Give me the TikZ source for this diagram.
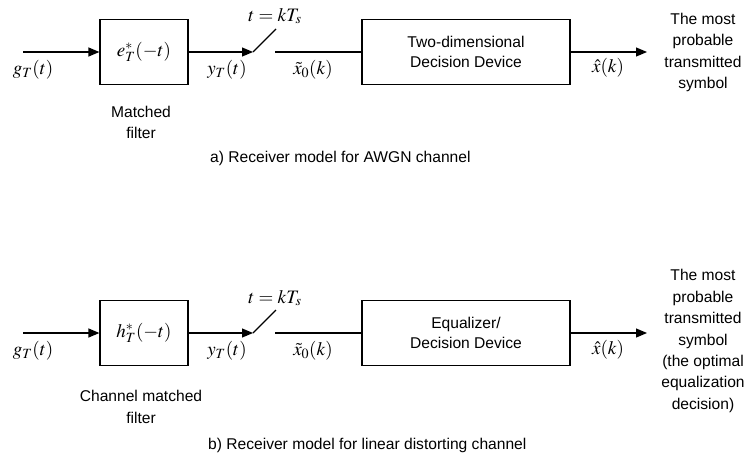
\documentclass[tikz,border=0pt]{standalone}
\usepackage{mathptmx}
\usepackage[no-math]{fontspec}
\setmainfont{Liberation Sans}
\usetikzlibrary{arrows.meta}

\tikzset{
  wire/.style={line width=1.2pt},
  sig/.style={wire, -{Triangle[length=11pt,width=9pt]}},
  blk/.style={draw, line width=1.2pt, rectangle, inner sep=0pt, minimum height=65pt,
              align=center, font=\fontsize{15.6}{20}\selectfont},
  txt/.style={inner sep=0pt, align=center, font=\fontsize{15.6}{21.4}\selectfont},
  mlbl/.style={inner sep=0pt, font=\fontsize{19}{22}\selectfont},
}

\begin{document}
\begin{tikzpicture}[x=1pt, y=-1pt]
\useasboundingbox (0,0) rectangle (747,458);

% ---------- (a) AWGN channel receiver ----------
\coordinate (inA) at (23,52);
\node[blk, minimum width=88pt] (mfA) at (144,52) {\fontsize{19}{22}\selectfont$e_T^*(-t)$};
\coordinate (swA) at (253,52);
\coordinate (bladeA) at (276,29);
\coordinate (outA) at (275,52);
\node[blk, minimum width=208pt] (ddA) at (466,52) {Two-dimensional\\Decision Device};
\coordinate (endA) at (647,52);

\draw[sig] (inA) -- (mfA.west);
\draw[sig] (mfA.east) -- (swA);
\draw[wire] (swA) -- (bladeA);
\draw[wire] (outA) -- (ddA.west);
\draw[sig] (ddA.east) -- (endA);

\node[mlbl] (gA) at (33,70) {$g_T(t)$};
\node[mlbl] (yA) at (227,70) {$y_T(t)$};
\node[mlbl] (xA) at (313,70) {$\tilde{x}_0(k)$};
\node[mlbl] (tA) at (275,16) {$t = kT_s$};
\node[mlbl] (hatA) at (608,68) {$\hat{x}(k)$};
\node[txt] (symA) at (703,52.5) {The most\\probable\\transmitted\\symbol};
\node[txt] (mfLabA) at (141,122.5) {Matched\\filter};
\node[txt, anchor=west] (capA) at (210,158) {a) Receiver model for AWGN channel};

% ---------- (b) linear distorting channel receiver ----------
\coordinate (inB) at (23,333);
\node[blk, minimum width=88pt] (mfB) at (144,333) {\fontsize{19}{22}\selectfont$h_T^*(-t)$};
\coordinate (swB) at (253,333);
\coordinate (bladeB) at (276,310);
\coordinate (outB) at (275,333);
\node[blk, minimum width=208pt] (ddB) at (466,333) {Equalizer/\\Decision Device};
\coordinate (endB) at (647,333);

\draw[sig] (inB) -- (mfB.west);
\draw[sig] (mfB.east) -- (swB);
\draw[wire] (swB) -- (bladeB);
\draw[wire] (outB) -- (ddB.west);
\draw[sig] (ddB.east) -- (endB);

\node[mlbl] (gB) at (33,351) {$g_T(t)$};
\node[mlbl] (yB) at (227,351) {$y_T(t)$};
\node[mlbl] (xB) at (313,351) {$\tilde{x}_0(k)$};
\node[mlbl] (tB) at (275,298) {$t = kT_s$};
\node[mlbl] (hatB) at (608,350) {$\hat{x}(k)$};
\node[txt] (symB) at (703,341) {The most\\probable\\transmitted\\symbol\\(the optimal\\equalization\\decision)};
\node[txt] (mfLabB) at (141,407) {Channel matched\\filter};
\node[txt, anchor=west] (capB) at (208,445) {b) Receiver model for linear distorting channel};
\end{tikzpicture}
\end{document}
